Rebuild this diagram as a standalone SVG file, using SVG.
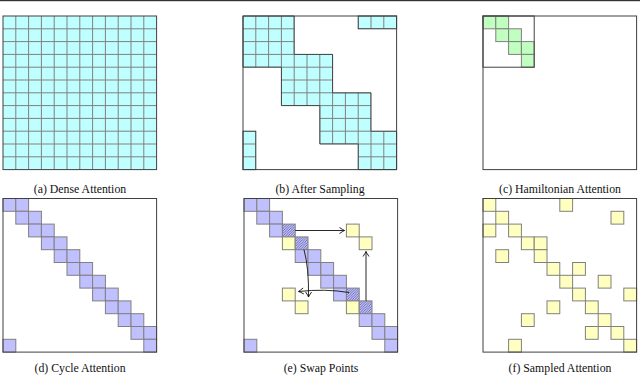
<svg xmlns="http://www.w3.org/2000/svg" xmlns:xlink="http://www.w3.org/1999/xlink" width="640" height="375" viewBox="0 0 640 375">
<style>
.box{fill:none;stroke:#404040;stroke-width:1}
.grid{fill:none;stroke:#808080;stroke-width:1}
.cy{fill:#c0ffff}
.gr{fill:#c0ffc0;stroke:#808080;stroke-width:1}
.pu{fill:#c0c0ff;stroke:#808080;stroke-width:1}
.ye{fill:#ffffc0;stroke:#808080;stroke-width:1}
.ha{fill:url(#hatch);stroke:#808080;stroke-width:1}
.lbl{font-family:"Liberation Serif","Times New Roman",serif;font-size:11.8px;fill:#111;text-anchor:middle}
.arr{fill:none;stroke:#111;stroke-width:0.9;marker-end:url(#ah)}
</style>
<defs>
<rect id="c" width="12.8" height="12.8"/>
<path id="gridp" d="M12.8 0V153.6M25.6 0V153.6M38.4 0V153.6M51.2 0V153.6M64 0V153.6M76.8 0V153.6M89.6 0V153.6M102.4 0V153.6M115.2 0V153.6M128 0V153.6M140.8 0V153.6M0 12.8H153.6M0 25.6H153.6M0 38.4H153.6M0 51.2H153.6M0 64H153.6M0 76.8H153.6M0 89.6H153.6M0 102.4H153.6M0 115.2H153.6M0 128H153.6M0 140.8H153.6"/>
<clipPath id="bclip">
<polygon points="0,0 51.2,0 51.2,38.4 89.6,38.4 89.6,76.8 128,76.8 128,115.2 153.6,115.2 153.6,153.6 115.2,153.6 115.2,128 76.8,128 76.8,89.6 38.4,89.6 38.4,51.2 0,51.2"/>
<rect x="115.2" y="0" width="38.4" height="12.8"/>
<rect x="0" y="115.2" width="12.8" height="38.4"/>
</clipPath>
<pattern id="hatch" patternUnits="userSpaceOnUse" width="2.5" height="2.5">
<rect width="2.5" height="2.5" fill="#c0c0ff"/>
<path d="M-0.5,0.5 L0.5,-0.5 M0,2.5 L2.5,0 M2,3 L3,2" stroke="#505090" stroke-width="0.7"/>
</pattern>
<marker id="ah" viewBox="-6 -4 8 8" markerWidth="8" markerHeight="8" refX="0" refY="0" orient="auto" markerUnits="userSpaceOnUse">
<path d="M-5,-3 Q-1.5,-0.6 0,0 Q-1.5,0.6 -5,3" fill="none" stroke="#111" stroke-width="0.9"/>
</marker>
</defs>
<rect width="640" height="375" fill="#fff"/>
<rect x="0" y="0" width="640" height="1.2" fill="#333"/>

<g id="panel-a" transform="translate(3,16)">
<rect class="cy" width="153.6" height="153.6"/>
<use href="#gridp" class="grid"/>
<rect class="box" width="153.6" height="153.6"/>
</g>

<g id="panel-b" transform="translate(243,16)">
<g clip-path="url(#bclip)">
<rect class="cy" width="153.6" height="153.6"/>
<use href="#gridp" class="grid"/>
</g>
<polygon class="box" points="0,0 51.2,0 51.2,38.4 89.6,38.4 89.6,76.8 128,76.8 128,115.2 153.6,115.2 153.6,153.6 115.2,153.6 115.2,128 76.8,128 76.8,89.6 38.4,89.6 38.4,51.2 0,51.2"/>
<rect class="box" x="115.2" y="0" width="38.4" height="12.8"/>
<rect class="box" x="0" y="115.2" width="12.8" height="38.4"/>
<rect class="box" width="153.6" height="153.6"/>
</g>

<g id="panel-c" transform="translate(483,16)">
<use href="#c" class="gr" x="0" y="0"/>
<use href="#c" class="gr" x="12.8" y="0"/>
<use href="#c" class="gr" x="12.8" y="12.8"/>
<use href="#c" class="gr" x="25.6" y="12.8"/>
<use href="#c" class="gr" x="25.6" y="25.6"/>
<use href="#c" class="gr" x="38.4" y="25.6"/>
<use href="#c" class="gr" x="38.4" y="38.4"/>
<rect class="box" width="51.2" height="51.2"/>
<rect class="box" width="153.6" height="153.6"/>
</g>

<g id="panel-d" transform="translate(3,198.5)">
<use href="#c" class="pu" x="0" y="0"/><use href="#c" class="pu" x="12.8" y="0"/>
<use href="#c" class="pu" x="12.8" y="12.8"/><use href="#c" class="pu" x="25.6" y="12.8"/>
<use href="#c" class="pu" x="25.6" y="25.6"/><use href="#c" class="pu" x="38.4" y="25.6"/>
<use href="#c" class="pu" x="38.4" y="38.4"/><use href="#c" class="pu" x="51.2" y="38.4"/>
<use href="#c" class="pu" x="51.2" y="51.2"/><use href="#c" class="pu" x="64" y="51.2"/>
<use href="#c" class="pu" x="64" y="64"/><use href="#c" class="pu" x="76.8" y="64"/>
<use href="#c" class="pu" x="76.8" y="76.8"/><use href="#c" class="pu" x="89.6" y="76.8"/>
<use href="#c" class="pu" x="89.6" y="89.6"/><use href="#c" class="pu" x="102.4" y="89.6"/>
<use href="#c" class="pu" x="102.4" y="102.4"/><use href="#c" class="pu" x="115.2" y="102.4"/>
<use href="#c" class="pu" x="115.2" y="115.2"/><use href="#c" class="pu" x="128" y="115.2"/>
<use href="#c" class="pu" x="128" y="128"/><use href="#c" class="pu" x="140.8" y="128"/>
<use href="#c" class="pu" x="140.8" y="140.8"/><use href="#c" class="pu" x="0" y="140.8"/>
<rect class="box" width="153.6" height="153.6"/>
</g>

<g id="panel-e" transform="translate(244,198.5)">
<use href="#c" class="pu" x="0" y="0"/><use href="#c" class="pu" x="12.8" y="0"/>
<use href="#c" class="pu" x="12.8" y="12.8"/><use href="#c" class="pu" x="25.6" y="12.8"/>
<use href="#c" class="pu" x="25.6" y="25.6"/><use href="#c" class="ha" x="38.4" y="25.6"/>
<use href="#c" class="ye" x="38.4" y="38.4"/><use href="#c" class="ha" x="51.2" y="38.4"/>
<use href="#c" class="pu" x="51.2" y="51.2"/><use href="#c" class="pu" x="64" y="51.2"/>
<use href="#c" class="pu" x="64" y="64"/><use href="#c" class="pu" x="76.8" y="64"/>
<use href="#c" class="pu" x="76.8" y="76.8"/><use href="#c" class="pu" x="89.6" y="76.8"/>
<use href="#c" class="pu" x="89.6" y="89.6"/><use href="#c" class="ha" x="102.4" y="89.6"/>
<use href="#c" class="ye" x="102.4" y="102.4"/><use href="#c" class="ha" x="115.2" y="102.4"/>
<use href="#c" class="pu" x="115.2" y="115.2"/><use href="#c" class="pu" x="128" y="115.2"/>
<use href="#c" class="pu" x="128" y="128"/><use href="#c" class="pu" x="140.8" y="128"/>
<use href="#c" class="pu" x="140.8" y="140.8"/><use href="#c" class="pu" x="0" y="140.8"/>
<use href="#c" class="ye" x="102.4" y="25.6"/><use href="#c" class="ye" x="115.2" y="38.4"/>
<use href="#c" class="ye" x="38.4" y="89.6"/><use href="#c" class="ye" x="51.2" y="102.4"/>
<rect class="box" width="153.6" height="153.6"/>
</g>

<g id="connectors">
<path class="arr" d="M295.2,230.5 L344.5,230.5"/>
<path class="arr" d="M366,300.9 L366,251.5"/>
<path class="arr" d="M304,249.7 Q309,268 308.5,297"/>
<path class="arr" d="M349,292.5 Q325,288.5 298.5,291.5"/>
</g>

<g id="panel-f" transform="translate(483,198.5)">
<use href="#c" class="ye" x="0" y="0"/><use href="#c" class="ye" x="76.8" y="0"/>
<use href="#c" class="ye" x="12.8" y="12.8"/><use href="#c" class="ye" x="128" y="12.8"/>
<use href="#c" class="ye" x="0" y="25.6"/><use href="#c" class="ye" x="25.6" y="25.6"/>
<use href="#c" class="ye" x="38.4" y="38.4"/><use href="#c" class="ye" x="51.2" y="38.4"/>
<use href="#c" class="ye" x="12.8" y="51.2"/><use href="#c" class="ye" x="51.2" y="51.2"/>
<use href="#c" class="ye" x="64" y="64"/><use href="#c" class="ye" x="89.6" y="64"/>
<use href="#c" class="ye" x="76.8" y="76.8"/><use href="#c" class="ye" x="115.2" y="76.8"/>
<use href="#c" class="ye" x="89.6" y="89.6"/><use href="#c" class="ye" x="140.8" y="89.6"/>
<use href="#c" class="ye" x="64" y="102.4"/><use href="#c" class="ye" x="102.4" y="102.4"/>
<use href="#c" class="ye" x="38.4" y="115.2"/><use href="#c" class="ye" x="115.2" y="115.2"/>
<use href="#c" class="ye" x="102.4" y="128"/><use href="#c" class="ye" x="128" y="128"/>
<use href="#c" class="ye" x="25.6" y="140.8"/><use href="#c" class="ye" x="140.8" y="140.8"/>
<rect class="box" width="153.6" height="153.6"/>
</g>

<g id="labels">
<text class="lbl" x="80" y="192.5">(a) Dense Attention</text>
<text class="lbl" x="320" y="192.5">(b) After Sampling</text>
<text class="lbl" x="560" y="192.5">(c) Hamiltonian Attention</text>
<text class="lbl" x="80" y="372">(d) Cycle Attention</text>
<text class="lbl" x="321" y="372">(e) Swap Points</text>
<text class="lbl" x="560" y="372">(f) Sampled Attention</text>
</g>
</svg>
